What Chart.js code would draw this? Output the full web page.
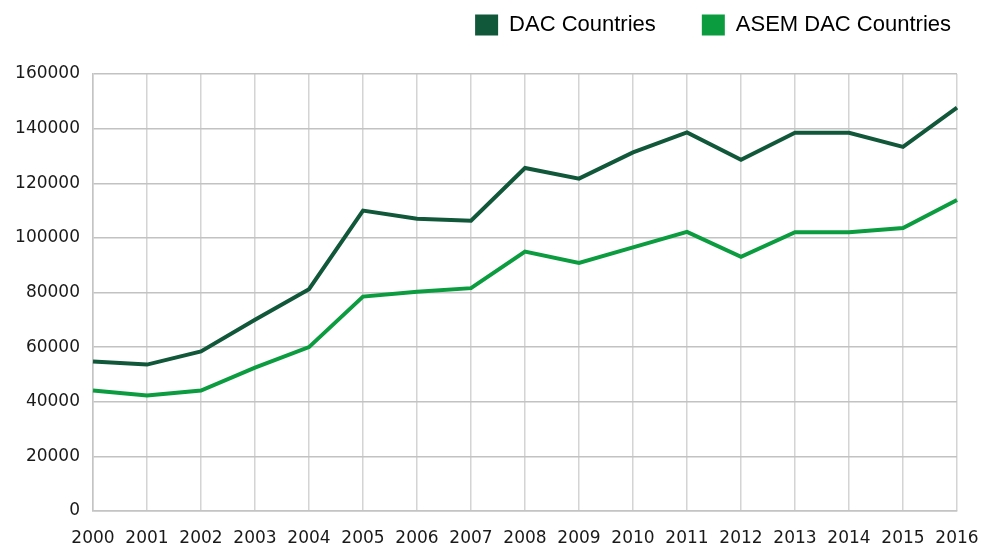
<!DOCTYPE html>
<html>
<head>
<meta charset="utf-8">
<script src="https://cdn.jsdelivr.net/npm/chart.js@4"></script>
<style>
  html,body{margin:0;padding:0;background:#fff;}
  #wrap{width:982px;height:549px;}
</style>
</head>
<body>
<div id="wrap"><canvas id="grafico" width="982" height="549"></canvas></div>
<script>
const anos = ['2000','2001','2002','2003','2004','2005','2006','2007','2008','2009','2010','2011','2012','2013','2014','2015','2016'];
const dac = [54700,53600,58400,70000,81200,110000,107000,106300,125600,121700,131300,138600,128600,138500,138500,133300,147700];
const asemDac = [44100,42300,44100,52500,60000,78500,80300,81600,95000,90800,96500,102200,93100,102100,102100,103600,113900];
const yTicks = [0,20000,40000,60000,80000,100000,120000,140000,160000];

const tickFont = {family:'DejaVu Sans', size:17};

// ajusta altura e posicao da legenda
const legendaExtra = {
  id:'legendaExtra',
  afterInit(chart){
    const fit = chart.legend.fit;
    chart.legend.fit = function(){ fit.call(this); this.height -= 4; };
  },
  afterLayout(chart){
    const l = chart.legend;
    l.top -= 32; l.bottom -= 32;
    l.left += 15; l.right += 15;
  }
};

new Chart(grafico, {
  type:'line',
  data:{
    labels: anos,
    datasets:[
      {label:'DAC Countries', data:dac, borderColor:'#11573a', backgroundColor:'#11573a', borderWidth:4, pointRadius:0, tension:0},
      {label:'ASEM DAC Countries', data:asemDac, borderColor:'#0b9c3f', backgroundColor:'#0b9c3f', borderWidth:4, pointRadius:0, tension:0}
    ]
  },
  options:{
    responsive:false,
    animation:false,
    layout:{padding:{left:0,right:0,top:0,bottom:0}},
    plugins:{
      legend:{
        position:'top', align:'end',
        labels:{boxWidth:23, boxHeight:21, padding:46, color:'#1a1a1a',
          font:{family:'Liberation Sans, Arial, sans-serif', size:22},
          generateLabels(chart){
            return chart.data.datasets.map((d,i)=>({text:d.label, fillStyle:d.borderColor, strokeStyle:d.borderColor, lineWidth:0, datasetIndex:i}));
          }
        }
      },
      tooltip:{enabled:false}
    },
    scales:{
      x:{
        offset:false,
        afterFit(scale){ scale.height = 38; scale.paddingRight = 25; scale.paddingLeft = 0; },
        grid:{color:'#d4d4d4', lineWidth:1.5, drawTicks:false},
        border:{color:'#c4c4c4', width:1.5},
        ticks:{color:'#1a1a1a', font:tickFont, padding:17, maxRotation:0, autoSkip:false}
      },
      y:{
        min:0, max:160000,
        afterBuildTicks(scale){ scale.ticks = yTicks.map(v=>({value:v})); },
        afterFit(scale){ scale.width = 93; },
        grid:{color:'#c2c2c2', lineWidth:1.5, drawTicks:false},
        border:{color:'#c4c4c4', width:1.5},
        ticks:{color:'#1a1a1a', font:tickFont, padding:13, callback:v=>String(v)}
      }
    }
  },
  plugins:[legendaExtra]
});
</script>
</body>
</html>
